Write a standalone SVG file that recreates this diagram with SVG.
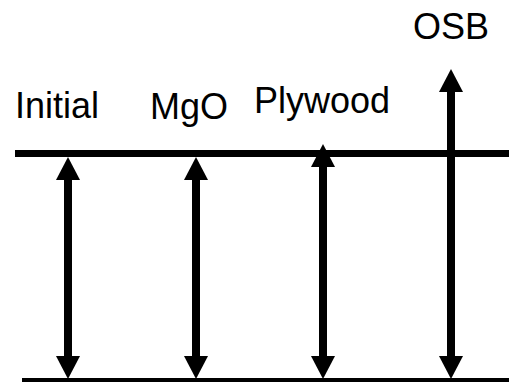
<svg xmlns="http://www.w3.org/2000/svg" width="509" height="382" viewBox="0 0 509 382">
  <style>
    .lbl { font-family: "Liberation Sans", Arial, sans-serif; font-size: 36px; fill: #000; }
    .bar { stroke: #000; stroke-width: 7; fill: none; }
    .arr { stroke: #000; stroke-width: 8; fill: none; marker-start: url(#head); marker-end: url(#head); }
  </style>
  <defs>
    <marker id="head" markerUnits="userSpaceOnUse" markerWidth="24" markerHeight="24" refX="0" refY="12" orient="auto-start-reverse" overflow="visible">
      <path d="M0,0 L23,12 L0,24 z" fill="#000"/>
    </marker>
  </defs>
  <g id="lines">
    <line class="bar" x1="15" y1="153.5" x2="509" y2="153.5"/>
    <line class="bar" x1="22" y1="381.5" x2="509" y2="381.5"/>
  </g>
  <g id="connectors">
    <line class="arr" x1="68" y1="180" x2="68" y2="356"/>
    <line class="arr" x1="196" y1="180" x2="196" y2="356"/>
    <line class="arr" x1="323" y1="167" x2="323" y2="356"/>
    <line class="arr" x1="451" y1="92" x2="451" y2="356"/>
  </g>
  <g id="initial"><text class="lbl" x="15" y="118">Initial</text></g>
  <g id="mgo"><text class="lbl" x="150" y="119">MgO</text></g>
  <g id="plywood"><text class="lbl" x="254" y="113">Plywood</text></g>
  <g id="osb"><text class="lbl" x="413" y="39">OSB</text></g>
</svg>
